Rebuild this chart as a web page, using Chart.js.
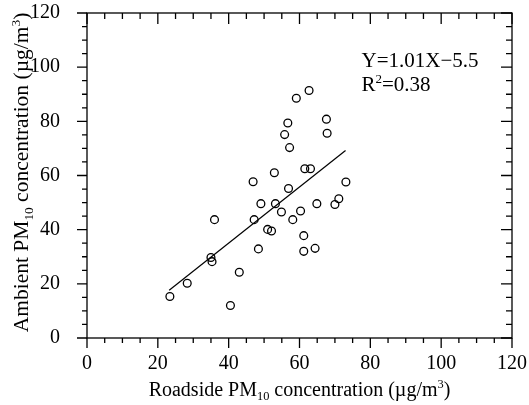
<!DOCTYPE html>
<html lang="en">
<head>
<meta charset="UTF-8">
<title>Roadside vs ambient PM10</title>
<style>
  html, body { margin: 0; padding: 0; background: #fff; }
  canvas { display: block; }
</style>
</head>
<body>
<canvas id="pmChart" width="529" height="405"></canvas>

<script src="https://cdn.jsdelivr.net/npm/chart.js@4.4.1/dist/chart.umd.min.js"></script>
<script>
    var roadside = [23.4, 28.3, 35.0, 35.3, 36.0, 40.5, 43.0, 46.9, 47.2, 48.4,
                    49.1, 51.0, 52.1, 52.9, 53.2, 54.9, 55.8, 56.7, 56.9, 57.2,
                    58.1, 59.1, 60.3, 61.2, 61.2, 61.5, 62.7, 63.1, 64.4, 64.9,
                    67.6, 67.8, 70.0, 71.1, 73.1];
    var ambient  = [15.3, 20.2, 29.7, 28.2, 43.7, 12.0, 24.3, 57.7, 43.7, 32.9,
                    49.6, 40.1, 39.5, 61.0, 49.6, 46.5, 75.1, 79.4, 55.2, 70.3,
                    43.7, 88.5, 46.9, 37.8, 32.0, 62.5, 91.4, 62.5, 33.1, 49.6,
                    80.8, 75.6, 49.3, 51.4, 57.6];

    // fitted line as drawn in the figure
    var fitX = [23.2, 73.0];
    var fitY = [17.6, 69.2];

    var tickValues = [0, 20, 40, 60, 80, 100, 120];
    var minorStep = 5;

    var equationText = 'Y=1.01X\u22125.5';
    var r2Text = '0.38';

    var serif = '"Liberation Serif", "Times New Roman", serif';

    function toPoints(xs, ys) {
        return xs.map(function (v, i) { return { x: v, y: ys[i] }; });
    }

    // draws text pieces with sub/superscripts, centred on x
    function drawRich(ctx, parts, x, y, size, align) {
        var small = size * 0.62;
        var total = 0;
        parts.forEach(function (p) {
            ctx.font = (p.sub || p.sup ? small : size) + 'px ' + serif;
            p.w = ctx.measureText(p.t).width;
            total += p.w;
        });
        var cx = align === 'left' ? x : x - total / 2;
        ctx.textAlign = 'left';
        ctx.textBaseline = 'alphabetic';
        parts.forEach(function (p) {
            var dy = p.sub ? size * 0.22 : (p.sup ? -size * 0.38 : 0);
            ctx.font = (p.sub || p.sup ? small : size) + 'px ' + serif;
            ctx.fillText(p.t, cx, y + dy);
            cx += p.w;
        });
    }

    function noPadding(s) {
        s.paddingLeft = 0; s.paddingRight = 0;
        s.paddingTop = 0; s.paddingBottom = 0;
    }

    var framePlugin = {
        id: 'frame',
        afterDraw: function (chart) {
            var ctx = chart.ctx, a = chart.chartArea;
            var xs = chart.scales.x, ys = chart.scales.y;
            ctx.save();
            ctx.strokeStyle = '#000';
            ctx.fillStyle = '#000';
            ctx.lineWidth = 1.3;
            ctx.strokeRect(a.left, a.top, a.right - a.left, a.bottom - a.top);

            ctx.beginPath();
            for (var v = tickValues[0]; v <= tickValues[tickValues.length - 1]; v += minorStep) {
                var major = tickValues.indexOf(v) >= 0;
                var out = major ? 10 : 5;
                var inn = major ? 11 : 6;
                var px = xs.getPixelForValue(v);
                var py = ys.getPixelForValue(v);
                // bottom + left point out, top + right point in
                ctx.moveTo(px, a.bottom); ctx.lineTo(px, a.bottom + out);
                ctx.moveTo(px, a.top); ctx.lineTo(px, a.top + inn);
                ctx.moveTo(a.left, py); ctx.lineTo(a.left - out, py);
                ctx.moveTo(a.right, py); ctx.lineTo(a.right - inn, py);
            }
            ctx.stroke();

            // axis titles
            drawRich(ctx, [
                { t: 'Roadside PM' }, { t: '10', sub: true },
                { t: ' concentration (\u00b5g/m' }, { t: '3', sup: true }, { t: ')' }
            ], (a.left + a.right) / 2, 396, 20);

            ctx.save();
            ctx.translate(28, (a.top + a.bottom) / 2 - 3);
            ctx.rotate(-Math.PI / 2);
            drawRich(ctx, [
                { t: 'Ambient PM' }, { t: '10', sub: true },
                { t: ' concentration (\u00b5g/m' }, { t: '3', sup: true }, { t: ')' }
            ], 0, 0, 21.5);
            ctx.restore();

            // regression equation
            var ex = xs.getPixelForValue(77.5);
            var ey = ys.getPixelForValue(100);
            drawRich(ctx, [{ t: equationText }], ex, ey, 21, 'left');
            drawRich(ctx, [{ t: 'R' }, { t: '2', sup: true }, { t: '=' + r2Text }], ex, ey + 23.5, 21, 'left');
            ctx.restore();
        }
    };

    var ctx = document.getElementById('pmChart').getContext('2d');
    var pmChart = new Chart(ctx, {
        data: {
            datasets: [{
                type: 'scatter',
                data: toPoints(roadside, ambient),
                pointStyle: 'circle',
                pointRadius: 3.9,
                pointBorderWidth: 1.3,
                pointBorderColor: '#000',
                pointBackgroundColor: 'rgba(255,255,255,0)',
                order: 1
            }, {
                type: 'line',
                data: toPoints(fitX, fitY),
                borderColor: '#000',
                borderWidth: 1.2,
                pointRadius: 0,
                fill: false,
                order: 2
            }]
        },
        plugins: [framePlugin],
        options: {
            responsive: false,
            animation: false,
            layout: { padding: { left: 0, right: 17, top: 13, bottom: 0 } },
            plugins: {
                legend: { display: false },
                tooltip: { enabled: false }
            },
            scales: {
                x: {
                    type: 'linear',
                    min: 0, max: 120,
                    grid: { display: false },
                    border: { display: false },
                    afterBuildTicks: function (s) { s.ticks = tickValues.map(function (v) { return { value: v }; }); },
                    afterFit: function (s) { s.height = 67; noPadding(s); },
                    ticks: {
                        color: '#000',
                        padding: 6,
                        maxRotation: 0,
                        font: { family: serif, size: 20 }
                    }
                },
                y: {
                    type: 'linear',
                    min: 0, max: 120,
                    grid: { display: false },
                    border: { display: false },
                    afterBuildTicks: function (s) { s.ticks = tickValues.map(function (v) { return { value: v }; }); },
                    afterFit: function (s) { s.width = 87; noPadding(s); },
                    ticks: {
                        color: '#000',
                        padding: 19,
                        font: { family: serif, size: 20 }
                    }
                }
            }
        }
    });
</script>
</body>
</html>
